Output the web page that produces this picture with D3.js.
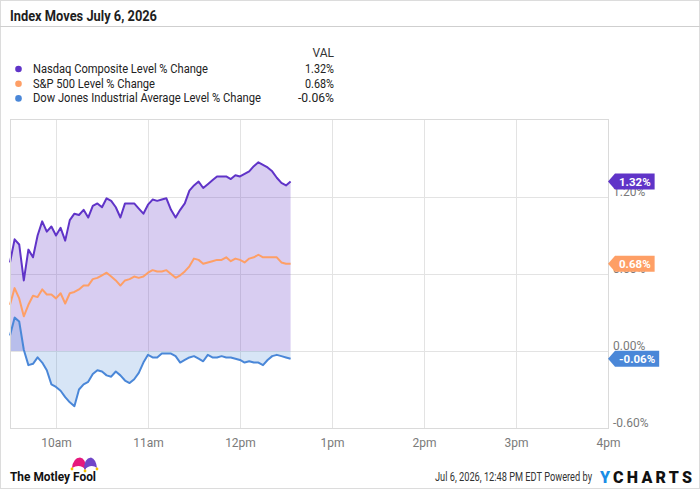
<!DOCTYPE html>
<html>
<head>
<meta charset="utf-8">
<script src="https://cdn.jsdelivr.net/npm/d3@7"></script>
<style>
    body { margin: 0; background: #fff; }
    svg text { font-family: Roboto, "Noto Sans", sans-serif; }
</style>
</head>
<body>
<div id="chart"></div>
<script>

// minutes after the 9:30 open (3 minute steps)
const minutes = [0, 3, 6, 9, 12, 15, 18, 21, 24, 27, 30, 33, 36, 39, 42, 45, 48, 51, 54, 57,
    60, 63, 66, 69, 72, 75, 78, 81, 84, 87, 90, 93, 96, 99, 102, 105, 108, 111, 114, 117,
    120, 123, 126, 129, 132, 135, 138, 141, 144, 147, 150, 153, 156, 159, 162, 165, 168, 171, 174, 177,
    180, 183];

// % change series
const nasdaq = [0.69, 0.87, 0.83, 0.55, 0.79, 0.73, 0.90, 1.01, 0.93, 0.97, 0.90, 0.96, 0.86, 1.02, 1.07, 1.06, 1.10, 1.04, 1.13, 1.15,
    1.12, 1.19, 1.17, 1.12, 1.04, 1.15, 1.15, 1.15, 1.11, 1.07, 1.14, 1.18, 1.17, 1.18, 1.19, 1.10, 1.04, 1.10, 1.15, 1.25,
    1.29, 1.32, 1.27, 1.30, 1.33, 1.36, 1.36, 1.36, 1.34, 1.37, 1.36, 1.38, 1.40, 1.44, 1.47, 1.45, 1.43, 1.40, 1.35, 1.31,
    1.29, 1.32];
const sp500 = [0.36, 0.49, 0.41, 0.27, 0.36, 0.43, 0.42, 0.48, 0.44, 0.44, 0.41, 0.45, 0.37, 0.45, 0.46, 0.48, 0.51, 0.51, 0.56, 0.57,
    0.59, 0.61, 0.58, 0.55, 0.51, 0.55, 0.56, 0.58, 0.57, 0.58, 0.61, 0.63, 0.62, 0.62, 0.63, 0.60, 0.57, 0.59, 0.62, 0.66,
    0.72, 0.71, 0.68, 0.69, 0.70, 0.71, 0.71, 0.73, 0.70, 0.72, 0.71, 0.69, 0.72, 0.73, 0.75, 0.73, 0.73, 0.73, 0.73, 0.69,
    0.68, 0.68];
const dow = [0.12, 0.26, 0.23, 0.01, -0.11, -0.10, -0.05, -0.09, -0.15, -0.26, -0.28, -0.31, -0.36, -0.40, -0.43, -0.30, -0.26, -0.24, -0.18, -0.15,
    -0.16, -0.19, -0.20, -0.16, -0.19, -0.23, -0.25, -0.22, -0.17, -0.09, -0.03, -0.05, -0.05, -0.02, -0.02, -0.02, -0.04, -0.09, -0.07, -0.05,
    -0.04, -0.06, -0.08, -0.03, -0.05, -0.05, -0.04, -0.05, -0.05, -0.06, -0.07, -0.09, -0.08, -0.09, -0.09, -0.11, -0.07, -0.04, -0.03, -0.04,
    -0.05, -0.06];

const seriesNames = ["Nasdaq Composite Level % Change", "S&P 500 Level % Change", "Dow Jones Industrial Average Level % Change"];
const lastLabels = ["1.32%", "0.68%", "-0.06%"];
const lastValues = [1.32, 0.68, -0.06];

const hourTicks = [10, 11, 12, 13, 14, 15, 16];
const hourLabels = ["10am", "11am", "12pm", "1pm", "2pm", "3pm", "4pm"];
const yTicks = [-0.6, 0, 0.6, 1.2];
const yTickLabels = ["-0.60%", "0.00%", "0.60%", "1.20%"];

const colors = ["#6034c8", "#fe9f66", "#4a87d8"];

const W = 700, H = 490;
const plot = {left: 10, right: 608, top: 120, bottom: 428};

const svg = d3.select("#chart").append("svg")
    .attr("width", W)
    .attr("height", H);

// outer frame
svg.append("rect")
    .attr("x", 0.5).attr("y", 0.5)
    .attr("width", W - 1).attr("height", 488)
    .attr("fill", "none")
    .attr("stroke", "#dcdcdc");

// title + rule
svg.append("text")
    .attr("x", 10).attr("y", 21)
    .attr("font-size", 14).attr("font-weight", 700)
    .attr("fill", "#1e1e1e")
    .attr("textLength", 147).attr("lengthAdjust", "spacingAndGlyphs")
    .text("Index Moves July 6, 2026");

svg.append("line")
    .attr("x1", 0).attr("x2", W)
    .attr("y1", 26.5).attr("y2", 26.5)
    .attr("stroke", "#cfcfcf");

// legend
const legendWidths = [175, 122, 228];
const valWidths = [29, 29, 36];
svg.append("text")
    .attr("x", 334).attr("y", 57)
    .attr("text-anchor", "end")
    .attr("font-size", 12).attr("fill", "#333")
    .text("VAL");

const legend = svg.selectAll(".legendRow")
    .data(seriesNames)
    .enter().append("g")
    .attr("class", "legendRow")
    .attr("transform", (d, i) => `translate(0, ${73 + i * 14.7})`);

legend.append("circle")
    .attr("cx", 18.5).attr("cy", -4)
    .attr("r", 3.3)
    .attr("fill", (d, i) => colors[i]);

legend.append("text")
    .attr("x", 33)
    .attr("font-size", 12.5).attr("fill", "#222")
    .attr("textLength", (d, i) => legendWidths[i]).attr("lengthAdjust", "spacingAndGlyphs")
    .text(d => d);

legend.append("text")
    .attr("x", 334)
    .attr("text-anchor", "end")
    .attr("font-size", 12.5).attr("fill", "#222")
    .attr("textLength", (d, i) => valWidths[i]).attr("lengthAdjust", "spacingAndGlyphs")
    .text((d, i) => lastLabels[i]);

// scales
const x = d3.scaleLinear().domain([9.5, 16]).range([plot.left, plot.right]);
const y = d3.scaleLinear().domain([-0.6, 1.8]).range([plot.bottom, plot.top]);
const t = m => 9.5 + m / 60;

// gridlines via axes
const xAxis = svg.append("g")
    .attr("class", "x-axis")
    .attr("transform", `translate(0, ${plot.bottom})`)
    .call(d3.axisBottom(x)
        .tickValues(hourTicks)
        .tickSize(-(plot.bottom - plot.top))
        .tickPadding(10)
        .tickFormat((d, i) => hourLabels[i]));

const yAxis = svg.append("g")
    .attr("class", "y-axis")
    .attr("transform", `translate(${plot.right}, 0)`)
    .call(d3.axisRight(y)
        .tickValues(yTicks)
        .tickSize(-(plot.right - plot.left))
        .tickPadding(5)
        .tickFormat((d, i) => yTickLabels[i]));

[xAxis, yAxis].forEach(ax => {
    ax.select(".domain").remove();
    ax.selectAll(".tick line").attr("stroke", "#e3e3e3");
    ax.selectAll(".tick text")
        .attr("fill", "#7a7a7a")
        .attr("font-size", 12)
        .attr("font-family", "Roboto, sans-serif");
});
yAxis.selectAll(".tick text").attr("dy", "-0.15em");

// areas to zero
const area = d3.area()
    .x((d, i) => x(t(minutes[i])))
    .y0(y(0))
    .y1(d => y(d));

svg.append("path")
    .datum(nasdaq)
    .attr("d", area)
    .attr("fill", "rgba(98, 54, 201, 0.25)");

svg.append("path")
    .datum(dow)
    .attr("d", area)
    .attr("fill", "rgba(74, 135, 216, 0.22)");

// lines
const line = d3.line()
    .x((d, i) => x(t(minutes[i])))
    .y(d => y(d));

svg.selectAll(".series")
    .data([nasdaq, sp500, dow])
    .enter().append("path")
    .attr("class", "series")
    .attr("d", line)
    .attr("fill", "none")
    .attr("stroke", (d, i) => colors[i])
    .attr("stroke-width", 2)
    .attr("stroke-linejoin", "round");

// plot border
svg.append("rect")
    .attr("x", plot.left + 0.5).attr("y", plot.top - 0.5)
    .attr("width", plot.right - plot.left).attr("height", plot.bottom - plot.top + 1)
    .attr("fill", "none")
    .attr("stroke", "#dadada");

// value flags on the right
lastValues.forEach((v, i) => {
    let yc = y(v);
    let g = svg.append("g");
    let label = g.append("text")
        .attr("x", 619).attr("y", yc)
        .attr("dy", "0.36em")
        .attr("font-size", 11.5).attr("font-weight", 700)
        .attr("fill", "#fff")
        .text(lastLabels[i]);
    let w = label.node().getComputedTextLength() + 8;
    g.insert("path", "text")
        .attr("d", `M${plot.right},${yc} L615,${yc - 8} L${615 + w},${yc - 8} L${615 + w},${yc + 8} L615,${yc + 8} Z`)
        .attr("fill", colors[i]);
});

// footer: Motley Fool mark
svg.append("path")
    .attr("d", "M72,468 Q73,458 80,457.5 Q86,458 86,470 Q80,463 72,468 Z")
    .attr("fill", "#e6197d");
svg.append("path")
    .attr("d", "M84,470 Q84,458 91,457.5 Q96,459 97,468 Q91,463 84,470 Z")
    .attr("fill", "#7046c8");
[[72, 469], [85, 471], [97, 469]].forEach(p => {
    svg.append("circle").attr("cx", p[0]).attr("cy", p[1]).attr("r", 1.4).attr("fill", "#f5c400");
});
svg.append("text")
    .attr("x", 10).attr("y", 481)
    .attr("font-size", 12.5).attr("font-weight", 700)
    .attr("fill", "#111")
    .attr("textLength", 86).attr("lengthAdjust", "spacingAndGlyphs")
    .text("The Motley Fool");

// footer: timestamp + YCharts
svg.append("text")
    .attr("x", 435).attr("y", 481)
    .attr("font-size", 12).attr("fill", "#333")
    .attr("textLength", 157).attr("lengthAdjust", "spacingAndGlyphs")
    .text("Jul 6, 2026, 12:48 PM EDT Powered by");

let yc = svg.append("text")
    .attr("x", 600).attr("y", 483)
    .attr("font-size", 16).attr("font-weight", 900)
    .attr("textLength", 92).attr("lengthAdjust", "spacing");
yc.append("tspan").attr("fill", "#1a8de6").text("Y");
yc.append("tspan").attr("fill", "#111").text("CHARTS");

</script>
</body>
</html>
